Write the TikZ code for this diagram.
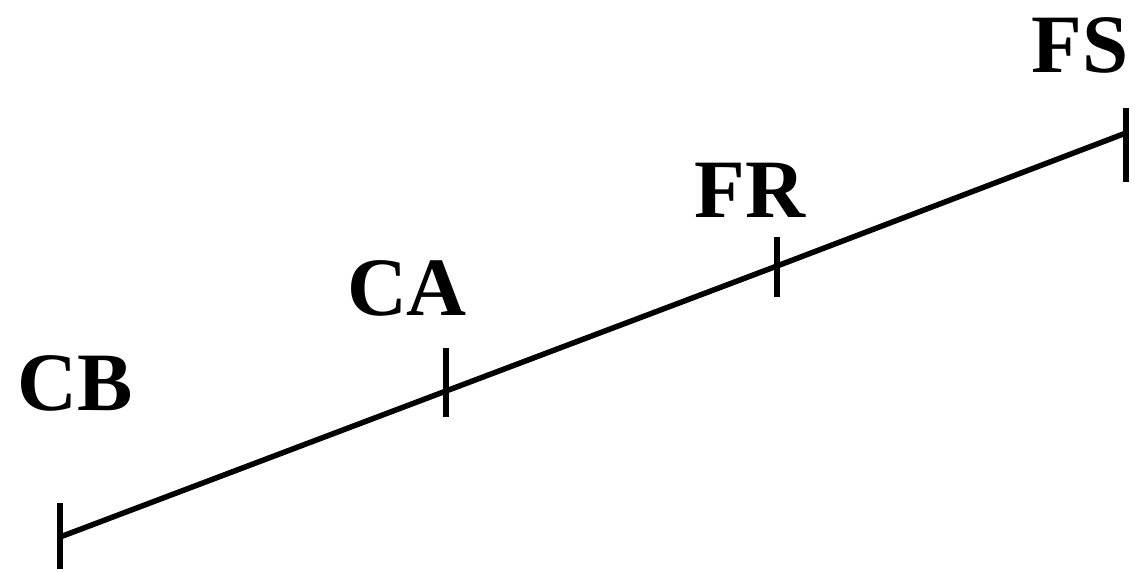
\documentclass[tikz,border=0pt]{standalone}
\usepackage{fontspec}
\newfontfamily\timesbold{LiberationSerif-Bold.ttf}
\begin{document}
\begin{tikzpicture}[x=1pt,y=-1pt,
  lbl/.style={anchor=base,inner sep=0pt,font=\fontsize{83}{90}\timesbold},
  axis/.style={line width=5.5pt},
  tickmark/.style={line width=6pt}]
\useasboundingbox (0,0) rectangle (1138,571);
% points on the line
\coordinate (pCB) at (60,537);
\coordinate (pCA) at (446,391);
\coordinate (pFR) at (777,266);
\coordinate (pFS) at (1126,133);
% tick ends
\coordinate (tCBa) at (60,503);
\coordinate (tCBb) at (60,569);
\coordinate (tCAa) at (446,348);
\coordinate (tCAb) at (446,417);
\coordinate (tFRa) at (777,237);
\coordinate (tFRb) at (777,297);
\coordinate (tFSa) at (1126,108);
\coordinate (tFSb) at (1126,182);
\draw[axis] (pCB) -- (pCA) -- (pFR) -- (pFS);
\draw[tickmark] (tCBa) -- (tCBb);
\draw[tickmark] (tCAa) -- (tCAb);
\draw[tickmark] (tFRa) -- (tFRb);
\draw[tickmark] (tFSa) -- (tFSb);
\node[lbl] (CB) at (75,410) {CB};
\node[lbl] (CA) at (407,315) {CA};
\node[lbl] (FR) at (750,217) {FR};
\node[lbl] (FS) at (1080,72) {FS};
\end{tikzpicture}
\end{document}
